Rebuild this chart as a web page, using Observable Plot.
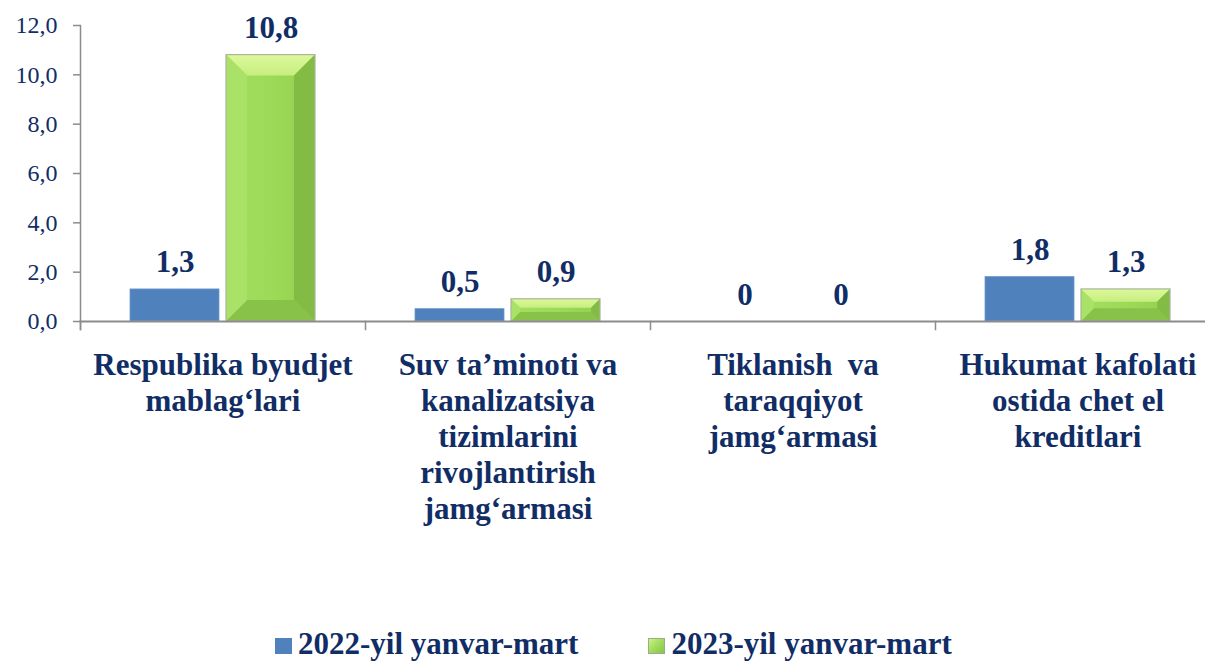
<!DOCTYPE html>
<html><head><meta charset="utf-8">
<script src="https://cdn.jsdelivr.net/npm/d3@7"></script>
<script src="https://cdn.jsdelivr.net/npm/@observablehq/plot@0.6"></script>
<style>
body{margin:0;background:#fff;font-family:"Liberation Serif",Tinos,"Times New Roman",Times,"DejaVu Serif",serif;}
svg text{white-space:pre;}
#legend{height:46px;box-sizing:border-box;padding-top:13px;padding-left:275px;display:flex;align-items:baseline;font-size:31px;font-weight:bold;color:#112D66;line-height:31px;white-space:nowrap;overflow:visible}
.sw{display:inline-block;width:17px;height:16px;margin-right:6px;margin-bottom:3px;}
.item2{margin-left:70px;}
</style></head><body><div id="chart"></div><div id="legend"></div>
<script>
const categories = [
  "Respublika byudjet\nmablag‘lari",
  "Suv ta’minoti va\nkanalizatsiya\ntizimlarini\nrivojlantirish\njamg‘armasi",
  "Tiklanish  va\ntaraqqiyot\njamg‘armasi",
  "Hukumat kafolati\nostida chet el\nkreditlari"
];
const seriesNames = ["2022-yil yanvar-mart", "2023-yil yanvar-mart"];
const values2022 = [1.3, 0.5, 0, 1.8];
const values2023 = [10.8, 0.9, 0, 1.3];
const yTicks = [0, 2, 4, 6, 8, 10, 12];
const colors = ["#4F81BD", "#9BD857"];

const rows = categories.flatMap((c, i) => [
  {category: c, series: seriesNames[0], value: values2022[i]},
  {category: c, series: seriesNames[1], value: values2023[i]}
]);
const fmtVal = v => v === 0 ? "0" : v.toFixed(1).replace(".", ",");
const fmtTick = v => v.toFixed(1).replace(".", ",");
const navy = "#112D66", axisGray = "#8C8C8C";
const serifStack = '"Liberation Serif", Tinos, "Times New Roman", Times, "DejaVu Serif", serif';
const W = 1205, H = 615, mTop = 25, base = 321, mLeft = 80, groupW = 285;

const chart = Plot.plot({
  width: W, height: H,
  marginTop: mTop, marginLeft: mLeft, marginRight: 0, marginBottom: H - base,
  style: {fontFamily: serifStack, background: "#fff", overflow: "hidden"},
  fx: {domain: categories, range: [mLeft, mLeft + categories.length * groupW], paddingInner: 0, paddingOuter: 0, axis: null, label: null},
  x: {domain: seriesNames, paddingInner: 0.073, paddingOuter: 0.52, axis: null},
  y: {domain: [0, 12], axis: null},
  color: {domain: seriesNames, range: colors},
  marks: [
    Plot.frame({anchor: "left", stroke: axisGray, strokeWidth: 1.5, insetTop: base - mTop, insetBottom: -8}),
    Plot.frame({anchor: "left", facet: "super", stroke: axisGray, strokeWidth: 1.5, insetBottom: -8}),
    Plot.axisY({ticks: yTicks, tickSize: 7, tickPadding: 16, tickFormat: fmtTick, fontSize: 24, fontFamily: serifStack, fill: navy, stroke: axisGray, strokeWidth: 1.5, label: null}),
    Plot.barY(rows, {fx: "category", x: "series", y: "value", fill: "series"}),
    Plot.frame({anchor: "bottom", facet: "super", stroke: axisGray, strokeWidth: 2}),
    Plot.text(rows, {fx: "category", x: "series", y: "value", text: d => fmtVal(d.value), lineAnchor: "bottom", dy: -17, fontSize: 31, fontFamily: serifStack, fontWeight: "bold", fill: navy}),
    Plot.text(categories, {fx: d => d, text: d => d, frameAnchor: "bottom", lineAnchor: "top", dy: 28, fontSize: 31, fontFamily: serifStack, fontWeight: "bold", fill: navy, lineHeight: 1.16})
  ]
});
document.getElementById("chart").appendChild(chart);

// bevel decoration on the 2023 bars, derived from the rects Plot drew
const svg = chart.tagName.toLowerCase() === "svg" ? chart : chart.querySelector("svg");
const ns = "http://www.w3.org/2000/svg";
const defs = document.createElementNS(ns, "defs");
defs.innerHTML = `<linearGradient id="gmid" x1="0" x2="1" y1="0" y2="0">
<stop offset="0" stop-color="#A4DF60"/><stop offset="0.5" stop-color="#9CDA58"/><stop offset="1" stop-color="#93D04F"/></linearGradient>
<linearGradient id="gtop" x1="0" x2="0" y1="0" y2="1"><stop offset="0" stop-color="#DDF89A"/><stop offset="1" stop-color="#C6EE80"/></linearGradient>`;
svg.insertBefore(defs, svg.firstChild);
svg.querySelectorAll('g[aria-label="bar"] rect').forEach(r => {
  const x = +r.getAttribute("x"), y = +r.getAttribute("y"), w = +r.getAttribute("width"), h = +r.getAttribute("height");
  if (r.getAttribute("fill") !== colors[1]) {
    r.setAttribute("stroke", "#6F98CB"); r.setAttribute("stroke-width", "0.8");
    return;
  }
  if (!(h > 0)) return;
  r.setAttribute("fill", "url(#gmid)");
  const b = Math.min(21, h * 0.4);
  const parent = r.parentNode, next = r.nextSibling;
  const poly = (pts, fill) => {
    const p = document.createElementNS(ns, "polygon");
    p.setAttribute("points", pts.map(q => q.join(",")).join(" "));
    p.setAttribute("fill", fill);
    parent.insertBefore(p, next);
  };
  poly([[x, y], [x + w, y], [x + w - b, y + b], [x + b, y + b]], "url(#gtop)");
  poly([[x, y + h], [x + w, y + h], [x + w - b, y + h - b], [x + b, y + h - b]], "#88C249");
  poly([[x, y], [x + b, y + b], [x + b, y + h - b], [x, y + h]], "#A9E266");
  poly([[x + w, y], [x + w - b, y + b], [x + w - b, y + h - b], [x + w, y + h]], "#82BC45");
  const o = document.createElementNS(ns, "rect");
  o.setAttribute("x", x); o.setAttribute("y", y); o.setAttribute("width", w); o.setAttribute("height", h);
  o.setAttribute("fill", "none"); o.setAttribute("stroke", "#A9B59C"); o.setAttribute("stroke-width", "1.2");
  parent.insertBefore(o, next);
});

// legend
const legend = document.getElementById("legend");
const swatchBg = ["#4F81BD", "linear-gradient(135deg,#D4F58E 0%,#A4DF60 45%,#86C047 100%)"];
seriesNames.forEach((s, i) => {
  const item = document.createElement("span");
  item.style.display = "inline-flex"; item.style.alignItems = "baseline";
  if (i > 0) item.className = "item2";
  const sw = document.createElement("span"); sw.className = "sw"; sw.style.background = swatchBg[i];
  if (i > 0) sw.style.boxShadow = "inset 0 0 0 1px #9AAE86";
  const t = document.createElement("span"); t.textContent = s;
  item.appendChild(sw); item.appendChild(t); legend.appendChild(item);
});
</script></body></html>
